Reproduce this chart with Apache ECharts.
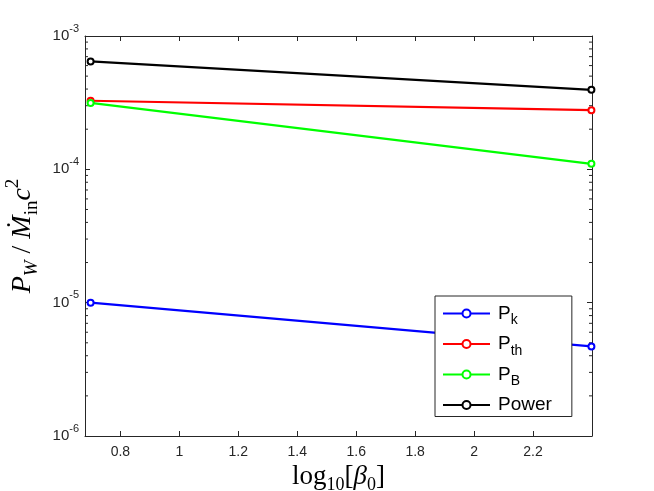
<!DOCTYPE html>
<html lang="en">
<head>
<meta charset="UTF-8">
<title>P_W vs log10 beta0</title>
<style>
  html, body { margin: 0; padding: 0; background: #fff; }
  #chart { width: 654px; height: 491px; }
</style>
</head>
<body>
<div id="chart"></div>
<script src="https://cdn.jsdelivr.net/npm/echarts@6/dist/echarts.min.js"></script>
<script>
// data
var logBeta = [0.699, 2.398];
var pK     = [1.0e-5, 4.7e-6];
var pTh    = [3.27e-4, 2.78e-4];
var pB     = [3.15e-4, 1.10e-4];
var power  = [6.45e-4, 3.95e-4];

var seriesNames  = ['Pk', 'Pth', 'PB', 'Power'];
var seriesColors = ['#0000ff', '#ff0000', '#00ff00', '#000000'];

var xMin = 0.68, xMax = 2.4;
var yMin = 1e-6, yMax = 1e-3;

// log minor tick positions (2..9 per decade)
var minorTicks = [];
[1e-6, 1e-5, 1e-4].forEach(function (d) {
    for (var k = 2; k <= 9; k++) minorTicks.push(d * k);
});

var axisColor = '#262626';

function makeLine(name, vals, color) {
    return {
        name: name,
        type: 'line',
        data: logBeta.map(function (x, i) { return [x, vals[i]]; }),
        symbol: 'emptyCircle',
        symbolSize: 6,
        showAllSymbol: true,
        color: color,
        lineStyle: { width: 2.2, color: color },
        itemStyle: { color: color, borderWidth: 2.2, borderColor: color },
        animation: false
    };
}

var chart = echarts.init(document.getElementById('chart'));

var legendLabels = {
    'Pk': '{p|P}{s|k}',
    'Pth': '{p|P}{s|th}',
    'PB': '{p|P}{s|B}',
    'Power': '{p|Power}'
};

var option = {
    backgroundColor: '#fff',
    animation: false,
    grid: { left: 85, right: 62, top: 36, bottom: 55, outerBoundsMode: 'none', containLabel: false },
    legend: {
        data: seriesNames,
        orient: 'vertical',
        left: 435,
        top: 296,
        padding: [8, 20, 2, 7],
        itemGap: 7,
        itemWidth: 47,
        itemHeight: 10,
        backgroundColor: '#fff',
        borderColor: axisColor,
        borderWidth: 1,
        borderRadius: 0,
        selectedMode: false,
        formatter: function (n) { return legendLabels[n]; },
        textStyle: {
            padding: [0, 0, 0, 3],
            rich: {
                p: { fontFamily: 'Liberation Sans', fontSize: 19, color: '#000', lineHeight: 28, verticalAlign: 'middle' },
                s: { fontFamily: 'Liberation Sans', fontSize: 14, color: '#000', lineHeight: 12, verticalAlign: 'bottom' }
            }
        }
    },
    xAxis: [{
        type: 'value',
        min: xMin,
        max: xMax,
        splitNumber: 8,
        splitLine: { show: false },
        axisLine: { lineStyle: { color: axisColor, width: 1 } },
        axisTick: { inside: true, length: 5, lineStyle: { color: axisColor } },
        axisLabel: {
            showMinLabel: false,
            showMaxLabel: false,
            color: axisColor,
            fontFamily: 'Liberation Sans',
            fontSize: 14,
            margin: 9
        },
        name: '{n|log}{s|10}{n|[}{i|β}{s|0}{n|]}',
        nameLocation: 'middle',
        nameGap: 19,
        nameTextStyle: {
            rich: {
                n: { fontFamily: 'Liberation Serif', fontSize: 27, color: '#000', lineHeight: 34, verticalAlign: 'middle' },
                i: { fontFamily: 'Liberation Serif', fontStyle: 'italic', fontSize: 27, color: '#000', lineHeight: 34, verticalAlign: 'middle' },
                s: { fontFamily: 'Liberation Serif', fontSize: 18, color: '#000', lineHeight: 15, verticalAlign: 'bottom' }
            }
        }
    }, {
        type: 'value',
        position: 'top',
        min: xMin,
        max: xMax,
        splitNumber: 8,
        splitLine: { show: false },
        axisLine: { lineStyle: { color: axisColor, width: 1 } },
        axisTick: { inside: true, length: 5, lineStyle: { color: axisColor } },
        axisLabel: { show: false }
    }],
    yAxis: [{
        type: 'log',
        logBase: 10,
        min: yMin,
        max: yMax,
        splitLine: { show: false },
        axisLine: { show: true, lineStyle: { color: axisColor, width: 1 } },
        axisTick: { inside: true, length: 5, lineStyle: { color: axisColor } },
        axisLabel: {
            color: axisColor,
            margin: 6,
            formatter: function (v) {
                return '{b|10}{e|' + Math.round(Math.log10(v)) + '}';
            },
            rich: {
                b: { fontFamily: 'Liberation Sans', fontSize: 15, color: axisColor, lineHeight: 26, verticalAlign: 'middle' },
                e: { fontFamily: 'Liberation Sans', fontSize: 11, color: axisColor, lineHeight: 11, verticalAlign: 'top' }
            }
        },
        name: '{i|P}{s|W}{n| / }{i|Ṁ}{r|in}{i|c}{u|2}',
        nameLocation: 'middle',
        nameRotate: 90,
        nameGap: 39,
        nameTextStyle: {
            rich: {
                n: { fontFamily: 'Liberation Serif', fontSize: 28, color: '#000', lineHeight: 38, verticalAlign: 'middle' },
                i: { fontFamily: 'Liberation Serif', fontStyle: 'italic', fontSize: 28, color: '#000', lineHeight: 38, verticalAlign: 'middle' },
                s: { fontFamily: 'Liberation Serif', fontStyle: 'italic', fontSize: 19, color: '#000', lineHeight: 17, verticalAlign: 'bottom' },
                r: { fontFamily: 'Liberation Serif', fontSize: 19, color: '#000', lineHeight: 17, verticalAlign: 'bottom' },
                u: { fontFamily: 'Liberation Serif', fontSize: 19, color: '#000', lineHeight: 17, verticalAlign: 'top' }
            }
        }
    }, {
        type: 'log',
        logBase: 10,
        position: 'right',
        min: yMin,
        max: yMax,
        splitLine: { show: false },
        axisLine: { show: true, lineStyle: { color: axisColor, width: 1 } },
        axisTick: { inside: true, length: 5, lineStyle: { color: axisColor } },
        axisLabel: { show: false }
    }],
    series: [
        makeLine('Pk', pK, seriesColors[0]),
        makeLine('Pth', pTh, seriesColors[1]),
        makeLine('PB', pB, seriesColors[2]),
        makeLine('Power', power, seriesColors[3]),
        {
            // log minor ticks on left and right frame
            type: 'custom',
            silent: true,
            clip: false,
            animation: false,
            data: minorTicks.map(function (v) { return [xMin, v]; }),
            renderItem: function (params, api) {
                var v = api.value(1);
                var l = api.coord([xMin, v]);
                var r = api.coord([xMax, v]);
                var st = { stroke: axisColor, lineWidth: 1 };
                return {
                    type: 'group',
                    children: [
                        { type: 'line', shape: { x1: l[0], y1: l[1], x2: l[0] + 3, y2: l[1] }, style: st },
                        { type: 'line', shape: { x1: r[0], y1: r[1], x2: r[0] - 3, y2: r[1] }, style: st }
                    ]
                };
            }
        }
    ]
};

chart.setOption(option);
</script>
</body>
</html>
